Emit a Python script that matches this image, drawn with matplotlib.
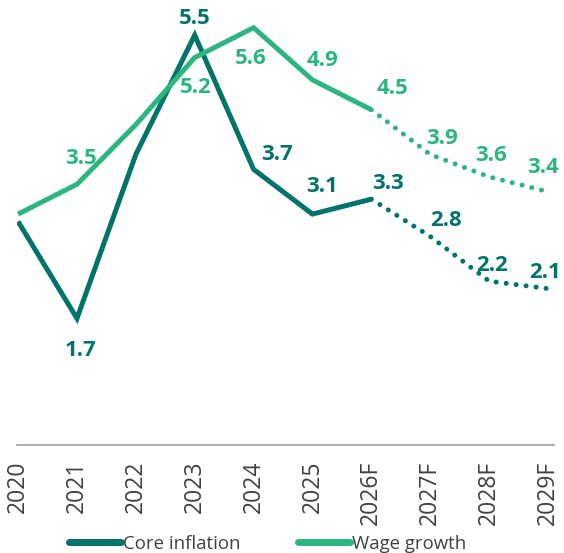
import matplotlib.pyplot as plt

plt.rcParams['font.family'] = ['Open Sans', 'DejaVu Sans']

years = ["2020", "2021", "2022", "2023", "2024", "2025",
         "2026F", "2027F", "2028F", "2029F"]
core = [3.0, 1.7, 3.9, 5.5, 3.7, 3.1, 3.3, 2.8, 2.2, 2.1]
wage = [3.1, 3.5, 4.3, 5.2, 5.6, 4.9, 4.5, 3.9, 3.6, 3.4]
n_actual = 7  # up to 2026F solid, rest dotted

core_col = "#00736b"
wage_col = "#2db57f"

# label offsets in pixels (None = no label)
core_off = [None, (4, -32), None, (0, 17), (23, 15), (10, 28),
            (17, 16), (16, 16), (3, 16), (-3, 16)]
wage_off = [None, (4, 26), None, (1, -30), (-3, -31), (10, 19),
            (21, 21), (12, 16), (2, 21), (-5, 24)]

fig = plt.figure(figsize=(5.64, 5.53), dpi=100)
ax = fig.add_axes([0.030, 0.195, 0.952, 0.798])

x = list(range(len(years)))
lw = 3.6
for vals, col, offs in [(core, core_col, core_off), (wage, wage_col, wage_off)]:
    ax.plot(x[:n_actual], vals[:n_actual], color=col, lw=lw,
            solid_capstyle='butt', solid_joinstyle='miter')
    ax.plot(x[n_actual - 1:], vals[n_actual - 1:], color=col, lw=lw,
            linestyle=(0, (0.01, 2.0)), dash_capstyle='round')
    for i, v in enumerate(vals):
        if offs[i] is None:
            continue
        ax.annotate(f"{v:.1f}", (i, v), xytext=offs[i], textcoords='offset pixels',
                    ha='center', va='center', fontsize=16, fontweight='bold',
                    color=col)

ax.set_xlim(-0.02, 9.1)
ax.set_ylim(0, 5.92)
ax.set_xticks(x)
ax.set_xticklabels(years, rotation=90, fontsize=16.5, color="#404040")
ax.tick_params(axis='x', length=0, pad=11)
ax.set_yticks([])
for s in ['top', 'right', 'left']:
    ax.spines[s].set_visible(False)
ax.spines['bottom'].set_color("#a0a0a0")
ax.spines['bottom'].set_linewidth(1.2)

h1, = ax.plot([], [], color=core_col, lw=5, solid_capstyle='round')
h2, = ax.plot([], [], color=wage_col, lw=5, solid_capstyle='round')
fig.legend([h1, h2], ["Core inflation", "Wage growth"], loc='center',
           bbox_to_anchor=(0.474, 0.017), ncol=2, frameon=False, fontsize=13.4,
           handlelength=2.8, handletextpad=0.1, columnspacing=3.1,
           labelcolor="#404040")

fig.savefig("out.png", dpi=100)
